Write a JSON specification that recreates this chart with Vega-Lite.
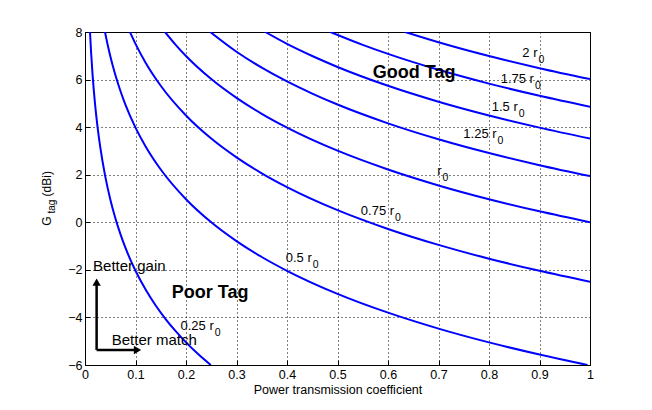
{
  "$schema": "https://vega.github.io/schema/vega-lite/v6.json",
  "width": 505,
  "height": 333,
  "autosize": {"type": "none"},
  "padding": {"left": 85, "top": 32, "right": 62, "bottom": 45},
  "background": "white",
  "config": {
    "view": {"stroke": "black", "strokeWidth": 1},
    "font": "Liberation Sans",
    "axis": {
      "domain": false,
      "grid": true,
      "gridColor": "black",
      "gridDash": [1, 3],
      "gridOpacity": 1,
      "gridWidth": 1,
      "tickColor": "black",
      "tickSize": -5,
      "labelFont": "Liberation Sans",
      "labelFontSize": 12.5,
      "labelColor": "black",
      "titleFont": "Liberation Sans",
      "titleFontSize": 12.5,
      "titleFontWeight": "normal",
      "titleColor": "black"
    }
  },
  "datasets": {
    "curves": [
      {"r": "0.25", "tau": 0.0099, "g": 8.0},
      {"r": "0.25", "tau": 0.012, "g": 7.17},
      {"r": "0.25", "tau": 0.015, "g": 6.2},
      {"r": "0.25", "tau": 0.02, "g": 4.95},
      {"r": "0.25", "tau": 0.025, "g": 3.98},
      {"r": "0.25", "tau": 0.03, "g": 3.19},
      {"r": "0.25", "tau": 0.04, "g": 1.94},
      {"r": "0.25", "tau": 0.05, "g": 0.97},
      {"r": "0.25", "tau": 0.06, "g": 0.18},
      {"r": "0.25", "tau": 0.07, "g": -0.49},
      {"r": "0.25", "tau": 0.08, "g": -1.07},
      {"r": "0.25", "tau": 0.1, "g": -2.04},
      {"r": "0.25", "tau": 0.12, "g": -2.83},
      {"r": "0.25", "tau": 0.14, "g": -3.5},
      {"r": "0.25", "tau": 0.16, "g": -4.08},
      {"r": "0.25", "tau": 0.18, "g": -4.59},
      {"r": "0.25", "tau": 0.2, "g": -5.05},
      {"r": "0.25", "tau": 0.225, "g": -5.56},
      {"r": "0.25", "tau": 0.249, "g": -6.0},
      {"r": "0.5", "tau": 0.0396, "g": 8.0},
      {"r": "0.5", "tau": 0.045, "g": 7.45},
      {"r": "0.5", "tau": 0.05, "g": 6.99},
      {"r": "0.5", "tau": 0.06, "g": 6.2},
      {"r": "0.5", "tau": 0.07, "g": 5.53},
      {"r": "0.5", "tau": 0.08, "g": 4.95},
      {"r": "0.5", "tau": 0.1, "g": 3.98},
      {"r": "0.5", "tau": 0.12, "g": 3.19},
      {"r": "0.5", "tau": 0.15, "g": 2.22},
      {"r": "0.5", "tau": 0.2, "g": 0.97},
      {"r": "0.5", "tau": 0.25, "g": 0.0},
      {"r": "0.5", "tau": 0.3, "g": -0.79},
      {"r": "0.5", "tau": 0.35, "g": -1.46},
      {"r": "0.5", "tau": 0.4, "g": -2.04},
      {"r": "0.5", "tau": 0.5, "g": -3.01},
      {"r": "0.5", "tau": 0.6, "g": -3.8},
      {"r": "0.5", "tau": 0.7, "g": -4.47},
      {"r": "0.5", "tau": 0.8, "g": -5.05},
      {"r": "0.5", "tau": 0.9, "g": -5.56},
      {"r": "0.5", "tau": 0.995, "g": -6.0},
      {"r": "0.75", "tau": 0.089, "g": 8.0},
      {"r": "0.75", "tau": 0.1, "g": 7.5},
      {"r": "0.75", "tau": 0.12, "g": 6.71},
      {"r": "0.75", "tau": 0.15, "g": 5.74},
      {"r": "0.75", "tau": 0.2, "g": 4.49},
      {"r": "0.75", "tau": 0.25, "g": 3.52},
      {"r": "0.75", "tau": 0.3, "g": 2.73},
      {"r": "0.75", "tau": 0.35, "g": 2.06},
      {"r": "0.75", "tau": 0.4, "g": 1.48},
      {"r": "0.75", "tau": 0.5, "g": 0.51},
      {"r": "0.75", "tau": 0.6, "g": -0.28},
      {"r": "0.75", "tau": 0.7, "g": -0.95},
      {"r": "0.75", "tau": 0.8, "g": -1.53},
      {"r": "0.75", "tau": 0.9, "g": -2.04},
      {"r": "0.75", "tau": 1.0, "g": -2.5},
      {"r": "1", "tau": 0.1585, "g": 8.0},
      {"r": "1", "tau": 0.18, "g": 7.45},
      {"r": "1", "tau": 0.2, "g": 6.99},
      {"r": "1", "tau": 0.25, "g": 6.02},
      {"r": "1", "tau": 0.3, "g": 5.23},
      {"r": "1", "tau": 0.35, "g": 4.56},
      {"r": "1", "tau": 0.4, "g": 3.98},
      {"r": "1", "tau": 0.5, "g": 3.01},
      {"r": "1", "tau": 0.6, "g": 2.22},
      {"r": "1", "tau": 0.7, "g": 1.55},
      {"r": "1", "tau": 0.8, "g": 0.97},
      {"r": "1", "tau": 0.9, "g": 0.46},
      {"r": "1", "tau": 1.0, "g": 0.0},
      {"r": "1.25", "tau": 0.248, "g": 8.0},
      {"r": "1.25", "tau": 0.3, "g": 7.17},
      {"r": "1.25", "tau": 0.35, "g": 6.5},
      {"r": "1.25", "tau": 0.4, "g": 5.92},
      {"r": "1.25", "tau": 0.45, "g": 5.41},
      {"r": "1.25", "tau": 0.5, "g": 4.95},
      {"r": "1.25", "tau": 0.6, "g": 4.16},
      {"r": "1.25", "tau": 0.7, "g": 3.49},
      {"r": "1.25", "tau": 0.8, "g": 2.91},
      {"r": "1.25", "tau": 0.9, "g": 2.4},
      {"r": "1.25", "tau": 1.0, "g": 1.94},
      {"r": "1.5", "tau": 0.357, "g": 8.0},
      {"r": "1.5", "tau": 0.4, "g": 7.5},
      {"r": "1.5", "tau": 0.45, "g": 6.99},
      {"r": "1.5", "tau": 0.5, "g": 6.53},
      {"r": "1.5", "tau": 0.6, "g": 5.74},
      {"r": "1.5", "tau": 0.7, "g": 5.07},
      {"r": "1.5", "tau": 0.8, "g": 4.49},
      {"r": "1.5", "tau": 0.9, "g": 3.98},
      {"r": "1.5", "tau": 1.0, "g": 3.52},
      {"r": "1.75", "tau": 0.486, "g": 8.0},
      {"r": "1.75", "tau": 0.55, "g": 7.46},
      {"r": "1.75", "tau": 0.6, "g": 7.08},
      {"r": "1.75", "tau": 0.7, "g": 6.41},
      {"r": "1.75", "tau": 0.8, "g": 5.83},
      {"r": "1.75", "tau": 0.9, "g": 5.32},
      {"r": "1.75", "tau": 1.0, "g": 4.86},
      {"r": "2", "tau": 0.634, "g": 8.0},
      {"r": "2", "tau": 0.7, "g": 7.57},
      {"r": "2", "tau": 0.8, "g": 6.99},
      {"r": "2", "tau": 0.9, "g": 6.48},
      {"r": "2", "tau": 1.0, "g": 6.02}
    ],
    "curveLabels": [
      {"x": 0.896, "y": 7.12, "main": "2 r", "sub": "0"},
      {"x": 0.889, "y": 6.02, "main": "1.75 r", "sub": "0"},
      {"x": 0.857, "y": 4.85, "main": "1.5 r", "sub": "0"},
      {"x": 0.815, "y": 3.71, "main": "1.25 r", "sub": "0"},
      {"x": 0.706, "y": 2.15, "main": "r", "sub": "0"},
      {"x": 0.612, "y": 0.47, "main": "0.75 r", "sub": "0"},
      {"x": 0.449, "y": -1.5, "main": "0.5 r", "sub": "0"},
      {"x": 0.255, "y": -4.36, "main": "0.25 r", "sub": "0"}
    ],
    "bigLabels": [
      {"x": 0.57, "y": 6.28, "text": "Good Tag"},
      {"x": 0.172, "y": -2.97, "text": "Poor Tag"}
    ],
    "noteLabels": [
      {"x": 0.016, "y": -1.85, "text": "Better gain"},
      {"x": 0.053, "y": -4.95, "text": "Better match"}
    ],
    "arrows": [
      {"x": 0.023, "y": -5.37, "x2": 0.023, "y2": -2.6},
      {"x": 0.023, "y": -5.37, "x2": 0.1, "y2": -5.37}
    ],
    "heads": [
      {"x": 0.023, "y": -2.52, "shape": "triangle-up"},
      {"x": 0.104, "y": -5.37, "shape": "triangle-right"}
    ],
    "ytitle": [
      {"x": -0.075, "y": 0.05, "text": "G", "size": 12},
      {"x": -0.065, "y": 0.66, "text": "tag", "size": 10},
      {"x": -0.075, "y": 1.62, "text": "(dBi)", "size": 12}
    ]
  },
  "layer": [
    {
      "data": {"name": "curves"},
      "mark": {"type": "line", "color": "#0000ff", "strokeWidth": 2, "interpolate": "monotone", "clip": true},
      "encoding": {
        "x": {
          "field": "tau", "type": "quantitative",
          "scale": {"domain": [0, 1], "nice": false, "zero": false},
          "axis": {"values": [0, 0.1, 0.2, 0.3, 0.4, 0.5, 0.6, 0.7, 0.8, 0.9, 1], "format": "~g", "labelPadding": 8, "title": "Power transmission coefficient", "titlePadding": 3, "labelFlush": false}
        },
        "y": {
          "field": "g", "type": "quantitative",
          "scale": {"domain": [-6, 8], "nice": false, "zero": false},
          "axis": {"values": [-6, -4, -2, 0, 2, 4, 6, 8], "format": "~g", "labelPadding": 8, "title": null, "labelFlush": false}
        },
        "detail": {"field": "r"}
      }
    },
    {
      "data": {"name": "arrows"},
      "mark": {"type": "rule", "color": "black", "strokeWidth": 2.5},
      "encoding": {
        "x": {"field": "x", "type": "quantitative"},
        "y": {"field": "y", "type": "quantitative"},
        "x2": {"field": "x2"},
        "y2": {"field": "y2"}
      }
    },
    {
      "data": {"name": "heads"},
      "mark": {"type": "point", "filled": true, "color": "black", "size": 70, "opacity": 1},
      "encoding": {
        "x": {"field": "x", "type": "quantitative"},
        "y": {"field": "y", "type": "quantitative"},
        "shape": {"field": "shape", "type": "nominal", "scale": null, "legend": null}
      }
    },
    {
      "data": {"name": "curveLabels"},
      "mark": {"type": "text", "align": "right", "baseline": "middle", "fontSize": 13, "color": "black"},
      "encoding": {
        "x": {"field": "x", "type": "quantitative"},
        "y": {"field": "y", "type": "quantitative"},
        "text": {"field": "main"}
      }
    },
    {
      "data": {"name": "curveLabels"},
      "mark": {"type": "text", "align": "left", "baseline": "middle", "fontSize": 10.5, "dx": 1, "dy": 7, "color": "black"},
      "encoding": {
        "x": {"field": "x", "type": "quantitative"},
        "y": {"field": "y", "type": "quantitative"},
        "text": {"field": "sub"}
      }
    },
    {
      "data": {"name": "bigLabels"},
      "mark": {"type": "text", "align": "left", "baseline": "middle", "fontSize": 18, "fontWeight": "bold", "color": "black"},
      "encoding": {
        "x": {"field": "x", "type": "quantitative"},
        "y": {"field": "y", "type": "quantitative"},
        "text": {"field": "text"}
      }
    },
    {
      "data": {"name": "noteLabels"},
      "mark": {"type": "text", "align": "left", "baseline": "middle", "fontSize": 15, "color": "black"},
      "encoding": {
        "x": {"field": "x", "type": "quantitative"},
        "y": {"field": "y", "type": "quantitative"},
        "text": {"field": "text"}
      }
    },
    {
      "data": {"name": "ytitle"},
      "mark": {"type": "text", "align": "center", "baseline": "middle", "angle": 270, "color": "black", "clip": false},
      "encoding": {
        "x": {"field": "x", "type": "quantitative"},
        "y": {"field": "y", "type": "quantitative"},
        "text": {"field": "text"},
        "size": {"field": "size", "type": "quantitative", "scale": null, "legend": null}
      }
    }
  ]
}
